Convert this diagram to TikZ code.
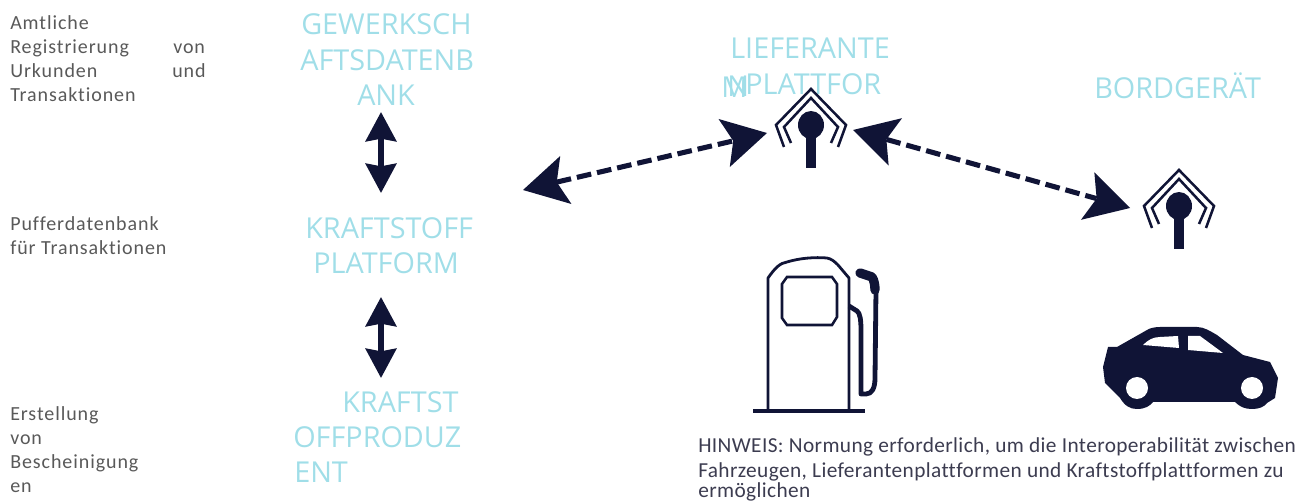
\documentclass[tikz,border=0pt]{standalone}
\usepackage{fontspec}
\setmainfont{Open Sans}
\newfontfamily\notefont[LetterSpace=4.6,Ligatures=NoCommon]{Carlito}
\newfontfamily\hintfont[LetterSpace=1.8,Ligatures=NoCommon]{Carlito}
\usetikzlibrary{arrows.meta}
\definecolor{cdark}{HTML}{101436}
\definecolor{chead}{HTML}{A0DEE8}
\definecolor{cnote}{HTML}{595959}
\definecolor{chint}{HTML}{3C3C50}
\tikzset{
  head/.style={text=chead,inner sep=0pt,anchor=base west,font=\fontsize{21.6pt}{23pt}\selectfont},
  note/.style={text=cnote,inner sep=0pt,anchor=base west,font=\notefont\fontsize{15pt}{18pt}\selectfont},
  hint/.style={text=chint,inner sep=0pt,anchor=base west,font=\hintfont\fontsize{16pt}{18pt}\selectfont},
  bigarrow/.style={draw=cdark,line width=3.8pt,{Stealth[length=22pt,width=23pt,inset=2pt]}-{Stealth[length=22pt,width=23pt,inset=2pt]}},
  dasharrow/.style={draw=cdark,line width=3.8pt,dash pattern=on 11pt off 4.5pt,{Stealth[length=33pt,width=37pt,inset=7pt,line width=0pt,sep=0pt]}-{Stealth[length=33pt,width=37pt,inset=7pt,line width=0pt,sep=0pt]}},
  pics/antenna/.style={code={
    \fill[cdark] (0,36) ellipse (13 and 14);
    \fill[cdark] (-5,40) rectangle (5,79);
    \draw[cdark,line width=1.9pt] (-27,58) -- (-35,36) -- (0,0) -- (35,36) -- (27,58);
    \draw[cdark,line width=1.9pt] (-20,54) -- (-27,38) -- (0,9) -- (27,38) -- (20,54);
  }}
}
\begin{document}
\begin{tikzpicture}[x=0.75pt,y=-0.75pt]
  \useasboundingbox (0,0) rectangle (1304,502);
  % left column
  \node[note] (am) at (10,30) {Amtliche};
  \node[note] (re) at (10,54) {Registrierung};
  \node[note] (vo) at (173,54) {von};
  \node[note] (ur) at (10,78) {Urkunden};
  \node[note] (un) at (172,78) {und};
  \node[note] (tr) at (10,102) {Transaktionen};
  \node[note] (pu) at (10,231) {Pufferdatenbank};
  \node[note] (fu) at (10,255) {für Transaktionen};
  \node[note] (er) at (10,421) {Erstellung};
  \node[note] (vn) at (10,445) {von};
  \node[note] (be) at (10,469) {Bescheinigung};
  \node[note] (en) at (10,493) {en};
  % headings
  \node[head] (ge1) at (301,35) {GEWERKSCH};
  \node[head] (ge2) at (300,71) {AFTSDATENB};
  \node[head] (ge3) at (357,106) {ANK};
  \node[head] (kr1) at (305,239) {KRAFTSTOFF};
  \node[head] (kr2) at (313,274) {PLATFORM};
  \node[head] (kp1) at (342,412) {KRAFTST};
  \node[head] (kp2) at (293,447) {OFFPRODUZ};
  \node[head] (kp3) at (294,482) {ENT};
  \node[head] (li1) at (730,59) {LIEFERANTE};
  \node[head] (li2) at (727,97) {N};
  \node[head] (li3) at (745,95) {PLATTFOR};
  \node[head] (li4) at (721,98) {M};
  \node[head] (bo) at (1094,99) {BORDGERÄT};
  % arrows
  \coordinate (a1) at (381,112);
  \coordinate (a2) at (381,193);
  \coordinate (a3) at (381,297);
  \coordinate (a4) at (381,378);
  \coordinate (d1) at (523,190);
  \coordinate (d2) at (767,133);
  \coordinate (d3) at (853,130);
  \coordinate (d4) at (1130,208);
  \draw[bigarrow] (a1) -- (a2);
  \draw[bigarrow] (a3) -- (a4);
  \draw[dasharrow] (d1) -- (d2);
  \draw[dasharrow] (d3) -- (d4);
  % antennas
  \pic at (811,89) {antenna};
  \pic at (1179,170) {antenna};
  % pump
  \draw[cdark,line width=2.1pt,line join=round] (768,410) -- (768,278) .. controls (775,268) and (780,263) .. (787,262) .. controls (800,258) and (815,257) .. (827,258) .. controls (832,259) and (835,262) .. (838,265) -- (849,278) -- (849,410);
  \draw[cdark,line width=2.4pt] (753,411) -- (865,411);
  \draw[cdark,line width=1.9pt] (787,277) -- (832,277) -- (837,284) -- (837,317) -- (832,325) -- (787,325) -- (782,318) -- (782,284) -- cycle;
  \draw[cdark,line width=3.6pt,line join=round] (849,306) -- (857,311) .. controls (860,313) and (861,320) .. (861,330) -- (861,394) -- (866,394) .. controls (872,394) and (875,388) .. (875,378) -- (876,290);
  \draw[cdark,line width=7pt,line cap=round,line join=round] (860,273) -- (866,275) -- (872,277) .. controls (874,280) and (875,285) .. (875,290);
  % car
  \fill[cdark] (1108,347) -- (1103,367) -- (1105,383) -- (1120,398) .. controls (1125,406) and (1130,409) .. (1137,409) .. controls (1145,409) and (1150,406) .. (1153,402) -- (1235,402) .. controls (1240,407) and (1245,409) .. (1252,409) .. controls (1259,409) and (1264,407) .. (1267,403) -- (1275,398) -- (1278,378) -- (1270,362) -- (1243,355) -- (1217,335) .. controls (1210,331) and (1204,327) .. (1197,327) -- (1160,327) .. controls (1155,327) and (1150,328) .. (1147,330) -- (1117,347) -- cycle;
  \fill[white] (1143,345) .. controls (1148,340) and (1153,337) .. (1160,337) -- (1178,336) -- (1179,348) -- cycle;
  \fill[white] (1188,336) -- (1200,336) -- (1223,353) -- (1188,350) -- cycle;
  \fill[white] (1137,388) circle (11);
  \fill[white] (1252,388) circle (11);
  % note
  \node[hint] (hi1) at (698,453) {HINWEIS: Normung erforderlich, um die Interoperabilität zwischen};
  \node[hint] (hi2) at (698,477) {Fahrzeugen, Lieferantenplattformen und Kraftstoffplattformen zu};
  \node[hint] (hi3) at (698,498) {ermöglichen};
\end{tikzpicture}
\end{document}
